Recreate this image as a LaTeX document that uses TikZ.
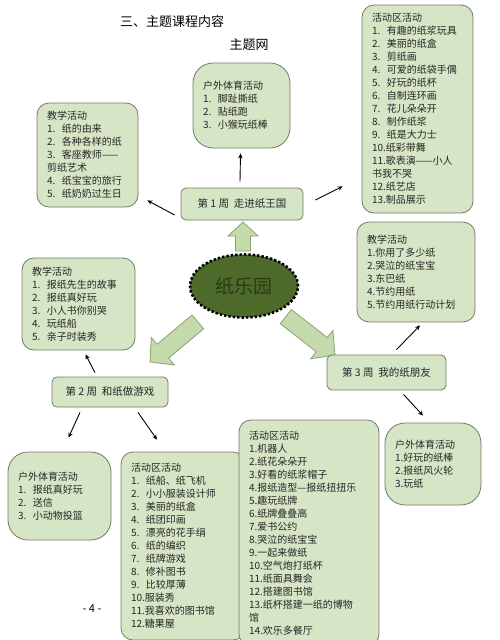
\documentclass[tikz,border=0pt]{standalone}
\usepackage{fontspec}
\setmainfont{Noto Sans CJK SC}
\usetikzlibrary{arrows.meta,shapes.geometric}

\definecolor{boxgreen}{RGB}{214,229,197}
\definecolor{boxline}{RGB}{112,124,100}
\definecolor{coregreen}{RGB}{78,106,42}
\definecolor{coretext}{RGB}{40,60,22}
\definecolor{arrgreen}{RGB}{196,218,170}
\definecolor{arrline}{RGB}{140,160,118}

\tikzset{
  listbox/.style={draw=boxline, fill=boxgreen, line width=0.8pt, rounded corners=12pt,
    align=left, inner xsep=10pt, inner ysep=3pt, text=black!85,
    font=\fontsize{10}{13}\selectfont},
  sportbox/.style={listbox, rounded corners=20pt},
  weekbox/.style={draw=boxline, fill=boxgreen, line width=0.8pt, rounded corners=5pt,
    text=black!85, font=\fontsize{10.5}{13}\selectfont},
  arr/.style={-{Stealth[length=5pt,width=4.5pt]}, line width=0.9pt},
  blockarr/.pic={
    \draw[fill=arrgreen, draw=arrline, line width=0.8pt]
      (0,0) -- (-14pt,15pt) -- (-14pt,7.5pt) -- (-#1,7.5pt) -- (-#1,-7.5pt)
      -- (-14pt,-7.5pt) -- (-14pt,-15pt) -- cycle;
  }
}

\begin{document}
\begin{tikzpicture}[x=1pt,y=-1pt]
  \useasboundingbox (0,0) rectangle (500,640);

  % titles
  \node[font=\fontsize{13}{15}\selectfont] (title) at (172,22) {三、主题课程内容};
  \node[font=\fontsize{13}{15}\selectfont] (web) at (249,45) {主题网};

  % centre
  \node[ellipse, fill=coregreen, draw=black, line width=2.6pt, dash pattern=on 2.4pt off 2pt,
    minimum width=108, minimum height=63, inner sep=0pt, text=coretext,
    font=\fontsize{19}{21}\selectfont] (core) at (244,286) {纸乐园};

  \pic[rotate=90] at (243,222) {blockarr=29pt};
  \pic[rotate=220, scale=1.2] at (150,362) {blockarr=52pt};
  \pic[rotate=-38, scale=1.2] at (335,355) {blockarr=52pt};

  % week 1
  \node[weekbox, minimum width=122, minimum height=32] (wk1) at (242,204) {第 1 周\ \ 走进纸王国};
  \node[sportbox, text width=77pt, minimum height=85] (hw1) at (241.5,105.5)
    {户外体育活动\\1.\ \ 脚趾撕纸\\2.\ \ 贴纸跑\\3.\ \ 小猴玩纸棒};
  \node[listbox, text width=91pt, minimum height=208] (hd1) at (417.5,109)
    {活动区活动\\1.\ \ 有趣的纸浆玩具\\2.\ \ 美丽的纸盒\\3.\ \ 剪纸画\\4.\ \ 可爱的纸袋手偶\\5.\ \ 好玩的纸杯\\6.\ \ 自制连环画\\7.\ \ 花儿朵朵开\\8.\ \ 制作纸浆\\9.\ \ 纸是大力士\\10.纸彩带舞\\11.歌表演——小人\\书我不哭\\12.纸艺店\\13.制品展示};
  \node[listbox, text width=81pt, minimum height=104] (jx1) at (87.5,155)
    {教学活动\\1.\ \ 纸的由来\\2.\ \ 各种各样的纸\\3.\ \ 客座教师——\\剪纸艺术\\4.\ \ 纸宝宝的旅行\\5.\ \ 纸奶奶过生日};

  \draw[arr] ([shift={(-6,11)}]wk1.west) -- ([shift={(9,-7)}]jx1.south east);
  \draw[arr] ([shift={(-2,-6)}]wk1.north) -- ([shift={(-1,5)}]hw1.south);
  \draw[arr] ([shift={(12,-4)}]wk1.east) -- ([shift={(-19,-27)}]hd1.south west);

  % week 2
  \node[weekbox, minimum width=116, minimum height=30] (wk2) at (110,392) {第 2 周\ \ 和纸做游戏};
  \node[listbox, text width=93pt, minimum height=92] (jx2) at (78.5,304)
    {教学活动\\1.\ \ 报纸先生的故事\\2.\ \ 报纸真好玩\\3.\ \ 小人书你别哭\\4.\ \ 玩纸船\\5.\ \ 亲子时装秀};
  \node[sportbox, text width=83pt, minimum height=88] (hw2) at (59.5,496)
    {户外体育活动\\1.\ \ 报纸真好玩\\2.\ \ 送信\\3.\ \ 小动物投篮};
  \node[listbox, text width=104pt, minimum height=188] (hd2) at (183,546)
    {活动区活动\\1.\ \ 纸船、纸飞机\\2.\ \ 小小服装设计师\\3.\ \ 美丽的纸盒\\4.\ \ 纸团印画\\5.\ \ 漂亮的花手绢\\6.\ \ 纸的编织\\7.\ \ 纸牌游戏\\8.\ \ 修补图书\\9.\ \ 比较厚薄\\10.服装秀\\11.我喜欢的图书馆\\12.糖果屋};

  \draw[arr] ([shift={(-15,-4)}]wk2.north) -- ([shift={(7,4)}]jx2.south);
  \draw[arr] ([shift={(-30,5)}]wk2.south) -- ([shift={(9,-14)}]hw2.north);
  \draw[arr] ([shift={(28,5)}]wk2.south) -- ([shift={(-26,-12)}]hd2.north);

  % week 3
  \node[weekbox, minimum width=119, minimum height=35] (wk3) at (386.5,372.5) {第 3 周\ \ 我的纸朋友};
  \node[listbox, text width=98pt, minimum height=100] (jx3) at (416,272)
    {教学活动\\1.你用了多少纸\\2.哭泣的纸宝宝\\3.东巴纸\\4.节约用纸\\5.节约用纸行动计划};
  \node[sportbox, text width=76pt, minimum height=82] (hw3) at (433,464)
    {户外体育活动\\1.好玩的纸棒\\2.报纸风火轮\\3.玩纸};
  \node[listbox, text width=120pt, minimum height=226] (hd3) at (309,533)
    {活动区活动\\1.机器人\\2.纸花朵朵开\\3.好看的纸浆帽子\\4.报纸造型—报纸扭扭乐\\5.趣玩纸牌\\6.纸牌叠叠高\\7.爱书公约\\8.哭泣的纸宝宝\\9.一起来做纸\\10.空气炮打纸杯\\11.纸面具舞会\\12.搭建图书馆\\13.纸杯搭建一纸的博物\\馆\\14.欢乐多餐厅};

  \draw[arr] ([shift={(10,-5)}]wk3.north) -- ([shift={(4,3)}]jx3.south);
  \draw[arr] ([shift={(17,4)}]wk3.south) -- ([shift={(-10,-7)}]hw3.north);

  % page number
  \node[font=\fontsize{11}{13}\selectfont] (pg) at (92,609) {- 4 -};
\end{tikzpicture}
\end{document}
